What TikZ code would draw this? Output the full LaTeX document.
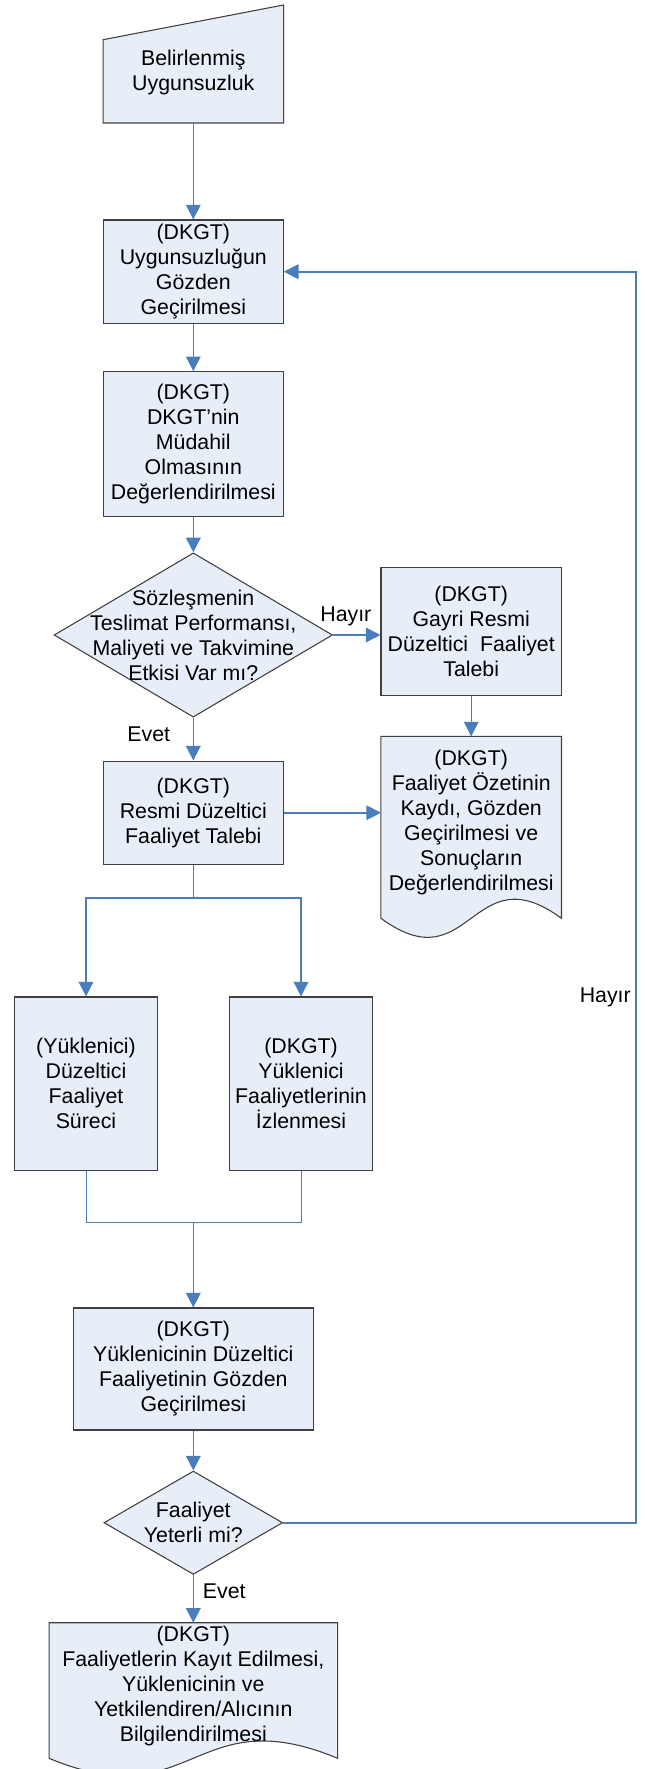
\documentclass[tikz,border=0pt]{standalone}
\usepackage{fontspec}
\setmainfont{Liberation Sans}
\usetikzlibrary{shapes.geometric,arrows.meta,backgrounds}
\definecolor{boxfill}{RGB}{232,238,247}
\definecolor{boxline}{RGB}{64,64,64}
\definecolor{arrowblue}{RGB}{74,126,187}
\begin{document}
\begin{tikzpicture}
[x=0.75pt,y=-0.75pt,font=\fontsize{16}{18.75}\selectfont,
  boxdecorate/.style={shape=rectangle,draw=boxline,fill=boxfill,line width=0.8pt,inner sep=0pt,align=center},%
  diamonddecorate/.style={shape=diamond,draw=boxline,fill=boxfill,line width=0.8pt,inner sep=0pt},%
  docdecorate/.style={shape=rectangle,inner sep=0pt,align=center},%
  shapedecorate/.style={draw=boxline,fill=boxfill,line width=0.8pt},%
  arrowdecorate/.style={-{Triangle[width=11pt,length=11pt]},draw=arrowblue,line width=1.2pt},%
  thinarrowdecorate/.style={arrowdecorate,line width=0.75pt},%
  linedecorate/.style={draw=arrowblue,line width=1.2pt},%
  thinlinedecorate/.style={draw=arrowblue,line width=0.75pt}]
\useasboundingbox (0,0) rectangle (644,1769);
%% process boxes
\foreach \nodename/\x/\y/\w/\h/\txt in {
  rev/193.3/271.7/135pt/77.5pt/{(DKGT)\\Uygunsuzluğun\\Gözden\\Geçirilmesi},
  mud/193.3/444.2/135pt/108.75pt/{(DKGT)\\DKGT’nin\\Müdahil\\Olmasının\\Değerlendirilmesi},
  gayri/471.2/631.5/135.3pt/96.3pt/{(DKGT)\\Gayri Resmi\\Düzeltici\ \ Faaliyet\\Talebi},
  resmi/193.3/812.7/135pt/77.5pt/{(DKGT)\\Resmi Düzeltici\\Faaliyet Talebi},
  yuk/86/1083.7/107.8pt/130.1pt/{(Yüklenici)\\Düzeltici\\Faaliyet\\Süreci},
  izl/301/1083.7/107.8pt/130.1pt/{(DKGT)\\Yüklenici\\Faaliyetlerinin\\İzlenmesi},
  gdn/193.3/1369/180pt/91.5pt/{(DKGT)\\Yüklenicinin Düzeltici\\Faaliyetinin Gözden\\Geçirilmesi}}
{
  \node (\nodename) at (\x,\y) [boxdecorate,minimum width=\w,minimum height=\h] {\txt};
}
%% input and documents
\node (inp) at (193.3,72.85) [docdecorate,minimum width=135pt,minimum height=74.8pt] {Belirlenmiş\\Uygunsuzluk};
\node (ozet) at (471.2,822.35) [docdecorate,minimum width=135pt,minimum height=128.5pt]
  {(DKGT)\\Faaliyet Özetinin\\Kaydı, Gözden\\Geçirilmesi ve\\Sonuçların\\Değerlendirilmesi};
\node (kayit) at (193.3,1685.5) [docdecorate,minimum width=216pt,minimum height=93.75pt]
  {(DKGT)\\Faaliyetlerin Kayıt Edilmesi,\\Yüklenicinin ve\\Yetkilendiren/Alıcının\\Bilgilendirilmesi};
\begin{scope}[on background layer]
  \path[shapedecorate] (inp.south west) -- (inp.south east) -- ([yshift=13.3pt]inp.north east)
    -- ([yshift=-12.75pt]inp.north west) -- cycle;
  \foreach \docname/\dx/\dy in {ozet/90/66, kayit/144/60}
  {
    \path[shapedecorate] (\docname.north west) -- (\docname.north east) -- ([yshift=-7.5pt]\docname.south east)
      .. controls +(-\dx,-\dy) and +(\dx,\dy) .. ([yshift=-7.5pt]\docname.south west) -- cycle;
  }
\end{scope}
%% decisions
\node (dec1) at (193.3,635) [diamonddecorate,minimum width=208.8pt,minimum height=123.2pt] {};
\node (dec1text) at (dec1.center) [align=center] {Sözleşmenin\\Teslimat Performansı,\\Maliyeti ve Takvimine\\Etkisi Var mı?};
\node (dec2) at (193.3,1522.7) [diamonddecorate,minimum width=134pt,minimum height=77.5pt] {};
\node (dec2text) at (dec2.center) [align=center] {Faaliyet\\Yeterli mi?};
%% connectors
\path
\foreach \startnode/\endnode in {rev/mud, mud/dec1, gdn/dec2} {
  (\startnode) edge[arrowdecorate] (\endnode)
};
\path
\foreach \startnode/\endnode in {inp/rev, gayri/ozet} {
  (\startnode) edge[thinarrowdecorate] (\endnode)
};
\draw[arrowdecorate] (dec1.east) -- node[pos=0.27,above=3pt] (hayir1) {Hayır} (dec1.east -| gayri.west);
\draw[arrowdecorate] (dec1.south) -- node[pos=0.39,left=13.5pt] (evet1) {Evet} (resmi.north);
\draw[arrowdecorate] (resmi.east) -- (resmi.east -| ozet.west);
\coordinate (split) at (193.3,897.7);
\coordinate (merge) at (193.3,1222.3);
\draw[linedecorate] (resmi.south) -- (split);
\draw[arrowdecorate] (split) -| (yuk.north);
\draw[arrowdecorate] (split) -| (izl.north);
\draw[thinlinedecorate] (yuk.south) |- (merge);
\draw[thinlinedecorate] (izl.south) |- (merge);
\draw[arrowdecorate] (merge) -- (gdn.north);
\draw[arrowdecorate] (dec2.south) -- node[pos=0.34,right=3.3pt] (evet2) {Evet} (kayit.north);
\coordinate (loop) at (636,1522.7);
\draw[arrowdecorate] (dec2.east) -- (loop) |- node[pos=0.21,left] (hayir2) {Hayır} (rev.east);
\end{tikzpicture}
\end{document}
